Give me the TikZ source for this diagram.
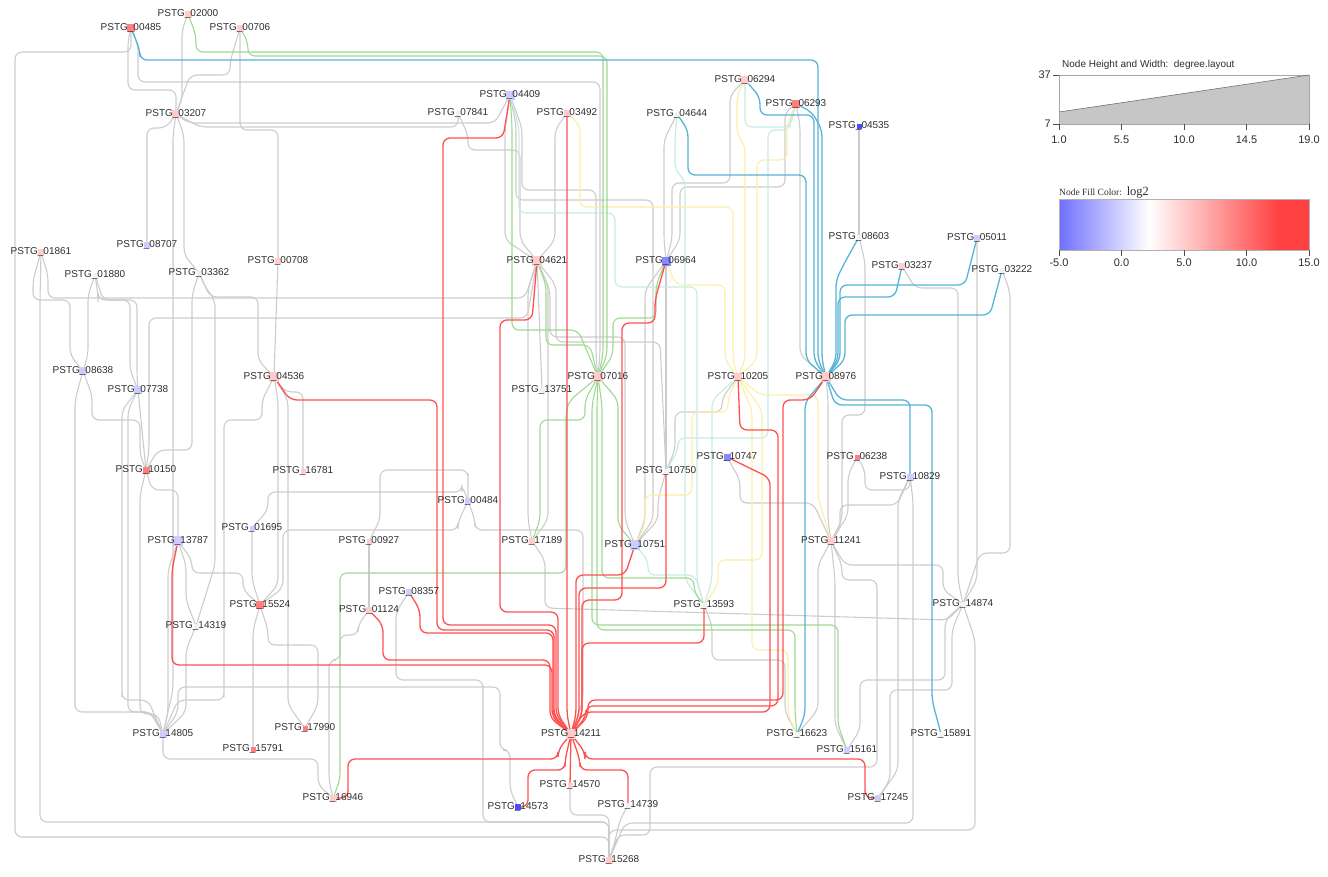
\documentclass[tikz,border=0pt]{standalone}
\usepackage{fontspec}
\setmainfont{Liberation Sans}
\newfontfamily\seriffont{Liberation Serif}
\pgfdeclarelayer{edges}
\pgfsetlayers{edges,main}
\definecolor{cg}{HTML}{CCCCCC}
\definecolor{cr}{HTML}{FF5050}
\definecolor{cb}{HTML}{56B4D9}
\definecolor{cgr}{HTML}{9DD98F}
\definecolor{cy}{HTML}{FBEEA8}
\definecolor{ct}{HTML}{C6EBE3}
\definecolor{fred}{HTML}{FF7F7F}
\definecolor{fpink}{HTML}{FFCBCB}
\definecolor{flav}{HTML}{CCCCFF}
\definecolor{fblue}{HTML}{4B4BFF}
\definecolor{fbluetwo}{HTML}{8888FF}
\definecolor{fnone}{HTML}{F2F2F2}
\definecolor{txt}{HTML}{2E2E2E}
\definecolor{lgblue}{HTML}{7070FF}
\definecolor{lgred}{HTML}{FF4040}
\pgfdeclarehorizontalshading{logshade}{100bp}{color(0bp)=(lgblue); color(25bp)=(lgblue); color(43bp)=(white); color(69bp)=(lgred); color(100bp)=(lgred)}
\tikzset{
  nd/.style={rectangle, inner sep=0pt, draw=none},
  lbl/.style={font=\fontsize{10}{12}\selectfont, text=txt, inner sep=0pt},
  ge/.style={draw=cg, line width=1.1pt, rounded corners=7pt},
  re/.style={draw=cr, line width=1.3pt, rounded corners=7pt},
  be/.style={draw=cb, line width=1.3pt, rounded corners=7pt},
  gre/.style={draw=cgr, line width=1.1pt, rounded corners=7pt},
  ye/.style={draw=cy, line width=1.1pt, rounded corners=7pt},
  te/.style={draw=ct, line width=1.1pt, rounded corners=7pt},
  axl/.style={font=\fontsize{11}{13}\selectfont, text=txt, inner sep=1pt},
}
\newcommand\N[5]{\node[nd, fill=#4, minimum size=#5pt, label={[lbl]center:PSTG\_#1}] (n#1) at (#2,#3) {};}
\begin{document}
\begin{tikzpicture}[x=1pt, y=-1pt]
\useasboundingbox (0,0) rectangle (1328,876);
% ---------------- nodes
\N{00485}{131}{28}{fred}{8}
\N{02000}{188}{14}{fpink}{7}
\N{00706}{240}{28}{fpink}{7}
\N{03207}{176}{114}{fpink}{8}
\N{04409}{510}{95}{flav}{9}
\N{07841}{458}{113}{fnone}{5}
\N{03492}{567}{113}{fpink}{7}
\N{06294}{745}{80}{fpink}{8}
\N{06293}{796}{104}{fred}{8}
\N{04644}{677}{114}{fnone}{5}
\N{04535}{859}{126}{fblue}{5}
\N{08707}{147}{245}{flav}{6}
\N{01861}{41}{252}{fpink}{6}
\N{01880}{95}{275}{fnone}{5}
\N{03362}{199}{273}{fnone}{5}
\N{00708}{278}{261}{fpink}{6}
\N{04621}{537}{261}{fpink}{10}
\N{06964}{666}{261}{fbluetwo}{9}
\N{08603}{859}{237}{fnone}{5}
\N{05011}{977}{238}{flav}{6}
\N{03237}{902}{266}{fpink}{6}
\N{03222}{1002}{270}{fnone}{5}
\N{08638}{83}{371}{flav}{8}
\N{07738}{138}{390}{flav}{8}
\N{04536}{274}{377}{fpink}{10}
\N{07016}{598}{377}{fpink}{10}
\N{13751}{542}{390}{fnone}{5}
\N{10205}{738}{377}{fpink}{8}
\N{08976}{826}{377}{fpink}{10}
\N{10150}{146}{470}{fred}{7}
\N{16781}{303}{471}{fpink}{5}
\N{10747}{727}{457}{fbluetwo}{7}
\N{10750}{666}{471}{fnone}{5}
\N{06238}{857}{457}{fred}{5}
\N{10829}{910}{477}{flav}{7}
\N{00484}{468}{501}{flav}{6}
\N{01695}{252}{528}{flav}{5}
\N{13787}{178}{541}{flav}{10}
\N{00927}{369}{541}{fpink}{5}
\N{17189}{532}{541}{fpink}{6}
\N{10751}{635}{545}{flav}{10}
\N{11241}{831}{541}{fpink}{8}
\N{15524}{260}{605}{fred}{8}
\N{08357}{409}{592}{flav}{6}
\N{01124}{369}{610}{fpink}{6}
\N{13593}{704}{605}{fnone}{5}
\N{14874}{963}{604}{fnone}{5}
\N{14319}{196}{626}{fnone}{5}
\N{14805}{163}{734}{flav}{7}
\N{17990}{305}{728}{fred}{5}
\N{15791}{253}{749}{fred}{5}
\N{14211}{571}{734}{fpink}{10}
\N{16623}{797}{734}{fnone}{5}
\N{15161}{847}{750}{flav}{6}
\N{15891}{941}{734}{fnone}{5}
\N{14570}{570}{785}{fpink}{5}
\N{14739}{628}{805}{fnone}{5}
\N{14573}{518}{807}{fblue}{6}
\N{16946}{333}{798}{fpink}{7}
\N{17245}{878}{798}{flav}{6}
\N{15268}{609}{860}{fpink}{7}
% ---------------- edges
\begin{pgfonlayer}{edges}
% gray
\draw[ge] (n00485.center) |- (15,52) -- (15,837) -| (n15268.center);
\draw[ge] (n00485.center) -- (128,40) |- (176,90) -- (n03207.center);
\draw[ge] (n00485.center) -- (138,45) |- (600,82) -- (600,355) -- (n07016.center);
\draw[ge] (n02000.center) -- (182,30) -- (182,100) -- (n03207.center);
\draw[ge] (n00706.center) -- (230,62) |- (190,75) -- (n03207.center);
\draw[ge] (n00706.center) -- (240,130) -| (n00708.center);
\draw[ge] (n03207.center) -- (166,128) -| (n08707.center);
\draw[ge] (n03207.center) -- (184,135) -- (184,255) -- (n03362.center);
\draw[ge] (n03207.center) -- (188,123) -- (495,123) -- (n04409.center);
\draw[ge] (n03207.center) -- (200,127) -| (n07841.center);
\draw[ge] (n03207.center) -- (173,135) -- (173,690) -- (n14805.center);
\draw[ge] (n01861.center) -- (48,275) |- (525,298) -- (n04621.center);
\draw[ge] (n01861.center) -- (33,280) |- (70,300) -- (70,355) -- (n08638.center);
\draw[ge] (n01861.center) -- (40,300) -- (40,822) -| (n15268.center);
\draw[ge] (n01880.center) -- (88,295) -- (88,355) -- (n08638.center);
\draw[ge] (n01880.center) -- (103,300) -| (130,370) -- (n07738.center);
\draw[ge] (n01880.center) -- (98,295) |- (137,300) -- (137,375) -- (n07738.center);
\draw[ge] (n03362.center) -- (210,297) -| (258,360) -- (n04536.center);
\draw[ge] (n03362.center) -- (192,295) |- (158,450) -- (n10150.center);
\draw[ge] (n03362.center) -- (207,290) -- (215,300) -- (215,565) -- (n14319.center);
\draw[ge] (n00708.center) -- (n04536.center);
\draw[ge] (n10150.center) -- (149,450) |- (527,318) -- (n04621.center);
\draw[ge] (n08638.center) -- (75,400) -- (75,700) |- (150,712) -- (n14805.center);
\draw[ge] (n08638.center) -- (92,395) |- (140,420) -- (140,455) -- (n10150.center);
\draw[ge] (n07738.center) -- (n10150.center);
\draw[ge] (n07738.center) -- (128,410) |- (152,712) -- (n14805.center);
\draw[ge] (n07738.center) -- (122,410) -- (122,690) |- (148,700) -- (n14805.center);
\draw[ge] (n10150.center) -- (152,490) -| (n13787.center);
\draw[ge] (n10150.center) -- (140,495) |- (158,714) -- (n14805.center);
\draw[ge] (n13787.center) -- (168,570) -- (168,712) -- (n14805.center);
\draw[ge] (n13787.center) -- (186,565) -- (186,600) -- (n14319.center);
\draw[ge] (n13787.center) -- (192,560) |- (243,573) -- (243,590) -- (n15524.center);
\draw[ge] (n04536.center) -- (262,400) |- (224,420) -- (224,690) |- (178,700) -- (n14805.center);
\draw[ge] (n04536.center) -- (285,392) -| (303,440) -- (n16781.center);
\draw[ge] (n04536.center) -- (288,400) -- (288,705) -- (n17990.center);
\draw[ge] (n04536.center) -- (278,400) -- (278,585) -- (n15524.center);
\draw[ge] (n01695.center) -- (252,580) -- (n15524.center);
\draw[ge] (n15524.center) -- (253,630) -- (n15791.center);
\draw[ge] (n15524.center) -- (268,630) |- (318,645) -- (318,705) -- (n17990.center);
\draw[ge] (n14319.center) -- (186,650) -- (186,712) -- (n14805.center);
\draw[ge] (n14805.center) |- (318,759) -- (318,785) -- (n16946.center);
\draw[ge] (n14805.center) -- (178,712) |- (500,687) -- (500,750) -| (510,790) -- (n14573.center);
\draw[ge] (n00927.center) -- (n01124.center);
\draw[ge] (n01124.center) -- (358,625) |- (340,635) -- (340,660) -| (329,780) -- (n16946.center);
\draw[ge] (n08357.center) -- (396,612) -- (396,680) -| (483,822) -| (n15268.center);
\draw[ge] (n00484.center) -- (475,520) |- (583,530) -- (583,700) -- (n14211.center);
\draw[ge] (n00484.center) -- (462,485) |- (268,492) -- (268,510) -- (n01695.center);
\draw[ge] (n00484.center) -- (458,522) |- (283,530) -- (283,588) -- (n15524.center);
\draw[ge] (n00484.center) -- (468,480) |- (380,470) -- (380,520) -- (n00927.center);
\draw[ge] (n04409.center) -- (505,130) -- (505,240) -- (n04621.center);
\draw[ge] (n07841.center) -- (468,135) |- (520,150) -- (520,240) -- (n04621.center);
\draw[ge] (n04409.center) -- (516,125) |- (653,200) -- (653,520) -- (n10751.center);
\draw[ge] (n04409.center) -- (522,128) |- (596,190) -- (596,355) -- (n07016.center);
\draw[ge] (n03492.center) -- (555,130) -- (555,240) -- (n04621.center);
\draw[ge] (n04621.center) -- (n13751.center);
\draw[ge] (n04621.center) -- (550,290) |- (625,337) -- (625,520) -- (n10751.center);
\draw[ge] (n04621.center) -- (528,290) -- (528,520) -- (n17189.center);
\draw[ge] (n04621.center) -- (548,285) -- (548,520) -- (n17189.center);
\draw[ge] (n04621.center) -- (556,285) |- (660,342) -- (n10750.center);
\draw[ge] (n04644.center) -- (664,140) -- (664,240) -- (n06964.center);
\draw[ge] (n06294.center) -- (730,95) |- (672,183) -- (672,240) -- (n06964.center);
\draw[ge] (n06293.center) -- (785,112) |- (680,187) -- (680,240) -- (n06964.center);
\draw[ge] (n06964.center) -- (n10750.center);
\draw[ge] (n06964.center) -- (645,290) -- (645,520) -- (n10751.center);
\draw[ge] (n10750.center) -- (658,500) -- (658,520) -- (n10751.center);
\draw[ge] (n06293.center) -- (800,125) -- (800,355) -- (n08976.center);
\draw[ge] (n04535.center) -- (n08603.center);
\draw[ge] (n08603.center) -- (865,262) |- (842,415) -- (842,520) -- (n11241.center);
\draw[ge] (n03237.center) -- (915,288) -| (958,580) -- (n14874.center);
\draw[ge] (n05011.center) -- (977,580) -- (n14874.center);
\draw[ge] (n03222.center) -- (1010,292) |- (980,553) -- (n14874.center);
\draw[ge] (n06238.center) -- (848,475) -- (848,515) -- (n11241.center);
\draw[ge] (n06238.center) -- (865,470) -- (865,490) -| (n10829.center);
\draw[ge] (n11241.center) -- (840,530) |- (897,505) -- (n10829.center);
\draw[ge] (n10747.center) -- (740,480) |- (813,503) -- (n11241.center);
\draw[ge] (n10829.center) -- (898,500) -- (898,770) -- (n17245.center);
\draw[ge] (n10829.center) -- (913,500) -- (913,823) -- (625,823) -- (n15268.center);
\draw[ge] (n11241.center) -- (845,565) -| (943,590) -- (n14874.center);
\draw[ge] (n11241.center) -- (818,565) -- (818,710) -- (n16623.center);
\draw[ge] (n11241.center) -- (835,580) -- (835,725) -- (n15161.center);
\draw[ge] (n11241.center) -- (842,565) |- (877,580) -- (877,767) -| (650,815) |- (618,835) -- (n15268.center);
\draw[ge] (n08976.center) -- (828,400) -- (828,520) -- (n11241.center);
\draw[ge] (n14874.center) -- (975,640) -- (975,830) -| (n15268.center);
\draw[ge] (n14874.center) -- (952,630) |- (890,690) -- (890,780) -- (n17245.center);
\draw[ge] (n14874.center) -- (945,620) |- (860,680) -- (860,730) -- (n15161.center);
\draw[ge] (n17189.center) -- (545,560) -- (545,608) -- (948,620) -- (n14874.center);
\draw[ge] (n14570.center) -- (570,815) -| (n15268.center);
\draw[ge] (n14739.center) -- (620,820) -- (614,845) -- (n15268.center);
\draw[ge] (n16623.center) -- (785,712) |- (712,660) -- (712,625) -- (n13593.center);
\draw[ge] (n10205.center) -- (722,398) |- (675,412) -- (675,450) -- (n10750.center);
% teal
\draw[te] (n04409.center) -- (519,128) |- (615,213) -- (615,287) -| (697,580) -- (n13593.center);
\draw[te] (n04644.center) -- (675,140) -- (675,170) -- (685,180) -- (685,580) -- (n13593.center);
\draw[te] (n06294.center) -- (745,100) |- (790,127) -- (n06293.center);
\draw[te] (n06293.center) -- (790,120) |- (768,130) -- (768,438) -| (678,450) -- (n10750.center);
\draw[te] (n10751.center) -- (648,560) |- (695,575) -- (n13593.center);
\draw[te] (n10205.center) -- (712,400) -- (712,580) -- (n13593.center);
% yellow
\draw[ye] (n03492.center) -- (580,125) |- (733,207) -- (733,360) -- (n10205.center);
\draw[ye] (n06294.center) -- (737,95) -- (737,135) -- (745,145) -- (745,360) -- (n10205.center);
\draw[ye] (n06293.center) -- (787,125) |- (757,160) -- (757,360) -- (n10205.center);
\draw[ye] (n06964.center) -- (676,285) -| (725,360) -- (n10205.center);
\draw[ye] (n10205.center) -- (728,398) |- (692,412) -- (692,495) -| (645,525) -- (n10751.center);
\draw[ye] (n10205.center) -- (762,410) |- (718,560) -- (718,585) -- (n13593.center);
\draw[ye] (n10205.center) -- (752,410) -- (752,650) -| (788,715) -- (n16623.center);
\draw[ye] (n10205.center) -- (760,395) -| (818,497) -- (n11241.center);
% green
\draw[gre] (n02000.center) -- (196,35) |- (603,52) -- (603,355) -- (n07016.center);
\draw[gre] (n00706.center) -- (248,42) |- (607,56) -- (607,355) -- (n07016.center);
\draw[gre] (n04409.center) -- (512,125) |- (578,330) -- (n07016.center);
\draw[gre] (n04621.center) -- (546,285) |- (590,345) -- (n07016.center);
\draw[gre] (n06964.center) -- (656,285) |- (613,318) -- (613,355) -- (n07016.center);
\draw[gre] (n07016.center) -- (585,400) |- (540,420) -- (540,520) -- (n17189.center);
\draw[gre] (n07016.center) -- (570,400) -- (566,410) -- (566,573) -| (340,780) -- (n16946.center);
\draw[gre] (n07016.center) -- (602,405) -- (602,578) -| (694,592) -- (n13593.center);
\draw[gre] (n07016.center) -- (592,405) -- (592,625) -| (838,725) -- (n15161.center);
\draw[gre] (n07016.center) -- (597,405) -- (597,630) -| (795,712) -- (n16623.center);
\draw[gre] (n07016.center) -- (618,400) -- (618,525) -- (n10751.center);
% blue
\draw[be] (n00485.center) -- (140,50) |- (818,60) -- (818,360) -- (n08976.center);
\draw[be] (n06294.center) -- (760,97) |- (814,115) -- (814,360) -- (n08976.center);
\draw[be] (n06293.center) -- (812,112) -- (822,130) -- (822,360) -- (n08976.center);
\draw[be] (n04644.center) -- (688,130) |- (806,175) -- (806,360) -- (n08976.center);
\draw[be] (n08603.center) -- (845,262) -- (836,280) -- (836,360) -- (n08976.center);
\draw[be] (n05011.center) -- (965,285) -| (840,360) -- (n08976.center);
\draw[be] (n03237.center) -- (895,297) -| (838,360) -- (n08976.center);
\draw[be] (n03222.center) -- (990,315) -| (845,360) -- (n08976.center);
\draw[be] (n08976.center) -- (840,400) -| (n10829.center);
\draw[be] (n08976.center) -- (835,405) -| (932,700) -- (n15891.center);
\draw[be] (n08976.center) -- (805,402) -- (805,715) -- (n16623.center);
% red
\draw[re] (n04409.center) -- (503,138) -| (443,625) -- (556,625) -- (556,715) -- (n14211.center);
\draw[re] (n04536.center) -- (290,400) -| (437,630) -- (554,630) -- (554,716) -- (n14211.center);
\draw[re] (n03492.center) -- (567,715) -- (n14211.center);
\draw[re] (n04621.center) -- (532,320) -| (500,612) -- (558,612) -- (558,715) -- (n14211.center);
\draw[re] (n06964.center) -- (655,300) |- (622,323) -- (622,600) -| (582,715) -- (n14211.center);
\draw[re] (n13787.center) -- (172,570) -- (172,665) -- (552,665) -- (552,717) -- (n14211.center);
\draw[re] (n08357.center) -- (420,610) |- (553,633) -- (553,716) -- (n14211.center);
\draw[re] (n01124.center) -- (383,625) |- (550,660) -- (550,718) -- (n14211.center);
\draw[re] (n10751.center) -- (625,575) -| (576,715) -- (n14211.center);
\draw[re] (n10750.center) -- (666,588) -| (579,715) -- (n14211.center);
\draw[re] (n13593.center) -- (704,643) -| (582,715) -- (n14211.center);
\draw[re] (n10747.center) -- (770,478) |- (584,712) -- (n14211.center);
\draw[re] (n08976.center) -- (810,400) -| (783,700) -| (588,717) -- (n14211.center);
\draw[re] (n10205.center) -- (740,430) -| (778,706) -| (586,717) -- (n14211.center);
\draw[re] (n14211.center) -- (565,760) |- (528,770) |- (n14573.center);
\draw[re] (n14211.center) -- (n14570.center);
\draw[re] (n14211.center) -- (580,760) |- (628,770) -- (n14739.center);
\draw[re] (n14211.center) -- (558,750) |- (348,759) |- (n16946.center);
\draw[re] (n14211.center) -- (585,752) |- (865,759) |- (n17245.center);
\end{pgfonlayer}
% ---------------- legend
\node[anchor=west, font=\fontsize{10}{12}\selectfont, text=txt, inner sep=0pt] (lgt) at (1062,65) {Node Height and Width:\ \ degree.layout};
\fill[fill=gray!45] (1059,112) -- (1309,75) -- (1309,124) -- (1059,124) -- cycle;
\draw[gray!70, line width=0.8pt] (1059,75) rectangle (1309,124);
\draw[gray!90!black, line width=0.6pt] (1059,112) -- (1309,75);
\draw[black!70, line width=0.8pt] (1053,75) -- (1059,75) (1053,124) -- (1059,124);
\node[anchor=east, axl] (l37) at (1052,75) {37};
\node[anchor=east, axl] (l7) at (1052,124) {7};
\foreach \xx/\tt in {1059/1.0, 1121.5/5.5, 1184/10.0, 1246.5/14.5, 1309/19.0} {
  \draw[black!70, line width=0.8pt] (\xx,124) -- (\xx,130);
  \node[axl] at (\xx,140) {\tt};
}
\node[anchor=base west, inner sep=0pt, text=txt] (lgc) at (1059,195) {\seriffont\fontsize{9.5}{11}\selectfont Node Fill Color:\ \ \fontsize{12.5}{14}\selectfont log2};
\shade[shading=logshade] (1059,199) rectangle (1309,250);
\draw[gray!60, line width=0.8pt] (1059,199) rectangle (1309,250);
\foreach \xx/\tt in {1059/-5.0, 1121.5/0.0, 1184/5.0, 1246.5/10.0, 1309/15.0} {
  \draw[black!70, line width=0.8pt] (\xx,250) -- (\xx,256);
  \node[axl] at (\xx,263) {\tt};
}
\end{tikzpicture}
\end{document}
